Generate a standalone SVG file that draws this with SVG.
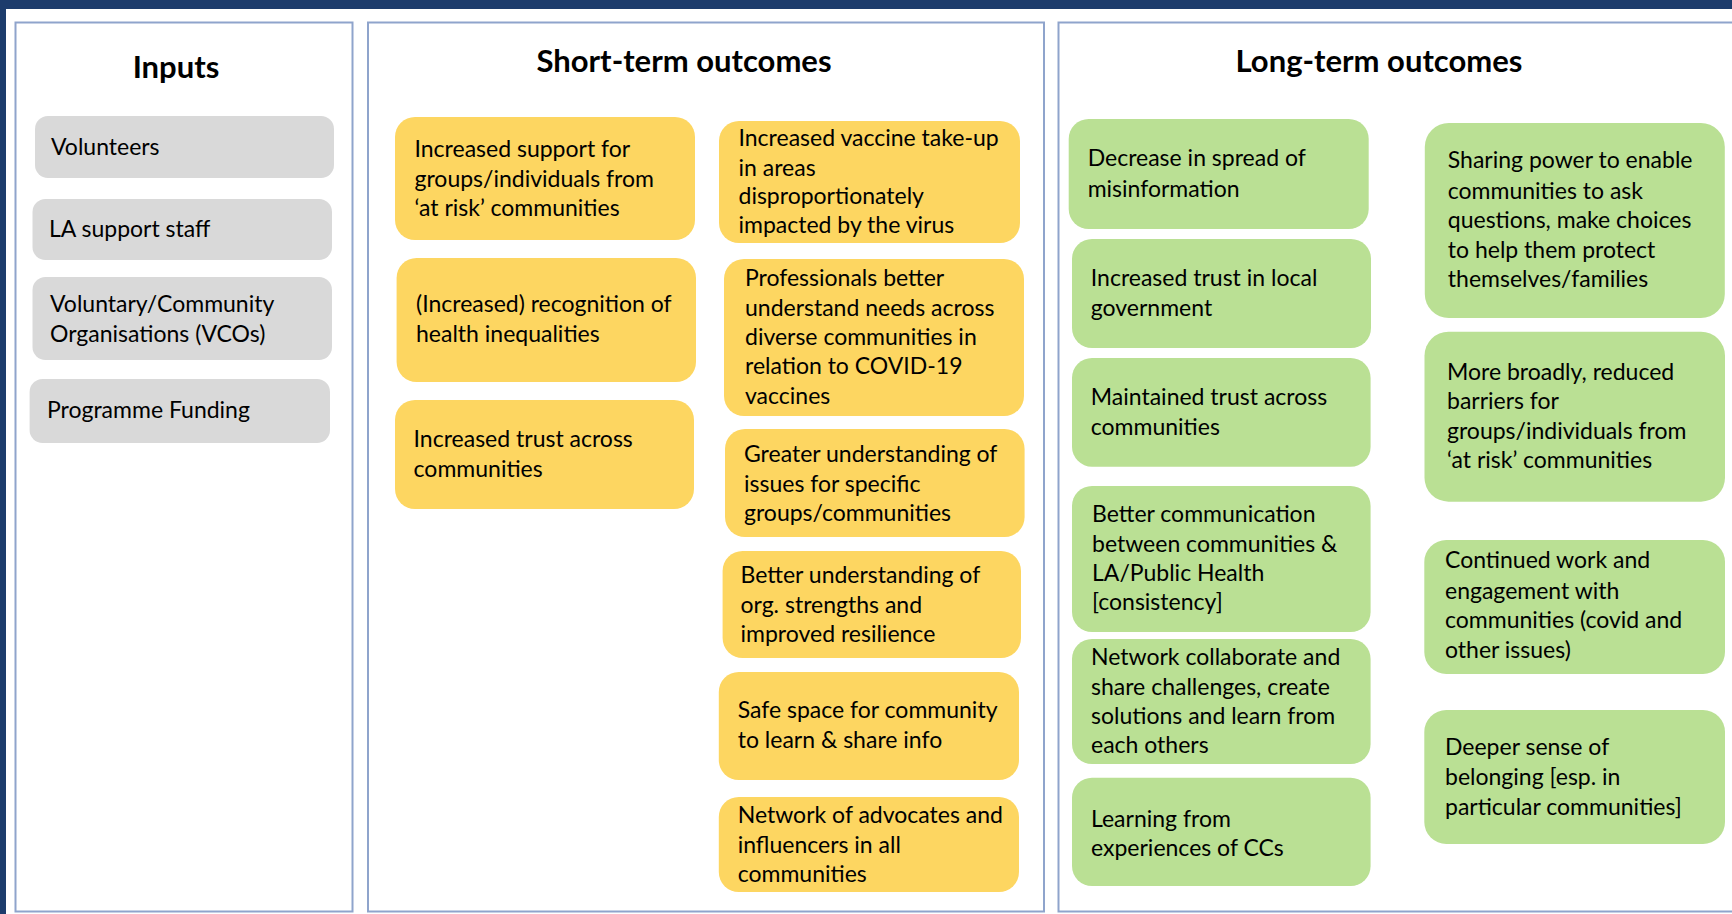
<svg xmlns="http://www.w3.org/2000/svg" width="1732" height="914" viewBox="0 0 1732 914">
  <style>
    .panel { fill: #ffffff; stroke: #8fa4cc; stroke-width: 2; }
    .title { font-family: Lato, "Open Sans", "Liberation Sans", sans-serif; font-weight: 700; font-size: 31px; fill: #000; text-anchor: middle; }
    .t { font-family: Lato, "Open Sans", "Liberation Sans", sans-serif; font-size: 23px; fill: #000; }
    .in { fill: #d9d9d9; }
    .st { fill: #fdd661; }
    .lt { fill: #bae094; }
  </style>

  <!-- frame -->
  <rect x="0" y="0" width="1732" height="914" fill="#ffffff"/>
  <rect x="0" y="0" width="1732" height="9" fill="#1d3c6c"/>
  <rect x="0" y="0" width="6" height="914" fill="#1d3c6c"/>

  <!-- column panels -->
  <g id="panels">
    <rect class="panel" x="15.5" y="22.5" width="337" height="889"/>
    <rect class="panel" x="368" y="22.5" width="676" height="889"/>
    <rect class="panel" x="1058.5" y="22.5" width="690" height="889"/>
    <text class="title" x="176" y="78">Inputs</text>
    <text class="title" x="684" y="72">Short-term outcomes</text>
    <text class="title" x="1379" y="72">Long-term outcomes</text>
  </g>

  <!-- inputs -->
  <g id="in-volunteers">
    <rect class="in" x="35" y="116" width="299" height="62" rx="13"/>
    <text class="t" x="51" y="155">Volunteers</text>
  </g>
  <g id="in-la-staff">
    <rect class="in" x="32.5" y="199" width="299.5" height="61" rx="13"/>
    <text class="t" x="49" y="237">LA support staff</text>
  </g>
  <g id="in-vcos">
    <rect class="in" x="32.5" y="277" width="299.5" height="83" rx="13"/>
    <text class="t"><tspan x="50" y="312">Voluntary/Community</tspan><tspan x="50" y="342">Organisations (VCOs)</tspan></text>
  </g>
  <g id="in-funding">
    <rect class="in" x="29.6" y="379" width="300.4" height="64" rx="13"/>
    <text class="t" x="47" y="418">Programme Funding</text>
  </g>

  <!-- short-term outcomes, left column -->
  <g id="st-support">
    <rect class="st" x="395" y="117" width="300" height="123" rx="20"/>
    <text class="t"><tspan x="414.5" y="157">Increased support for</tspan><tspan x="414.5" y="187">groups/individuals from</tspan><tspan x="414.5" y="216">‘at risk’ communities</tspan></text>
  </g>
  <g id="st-recognition">
    <rect class="st" x="396.6" y="258" width="299.4" height="124" rx="20"/>
    <text class="t"><tspan x="416" y="312">(Increased) recognition of</tspan><tspan x="416" y="342">health inequalities</tspan></text>
  </g>
  <g id="st-trust">
    <rect class="st" x="395" y="400" width="299" height="109" rx="20"/>
    <text class="t"><tspan x="413.6" y="447">Increased trust across</tspan><tspan x="413.6" y="477">communities</tspan></text>
  </g>

  <!-- short-term outcomes, right column -->
  <g id="st-vaccine">
    <rect class="st" x="719" y="121" width="301" height="122" rx="20"/>
    <text class="t"><tspan x="738.5" y="146">Increased vaccine take-up</tspan><tspan x="738.5" y="176">in areas</tspan><tspan x="738.5" y="204">disproportionately</tspan><tspan x="738.5" y="233">impacted by the virus</tspan></text>
  </g>
  <g id="st-professionals">
    <rect class="st" x="724" y="259" width="300" height="157" rx="20"/>
    <text class="t"><tspan x="745" y="286">Professionals better</tspan><tspan x="745" y="316">understand needs across</tspan><tspan x="745" y="345">diverse communities in</tspan><tspan x="745" y="374">relation to COVID-19</tspan><tspan x="745" y="404">vaccines</tspan></text>
  </g>
  <g id="st-issues">
    <rect class="st" x="725" y="429" width="299.6" height="108" rx="20"/>
    <text class="t"><tspan x="744" y="462">Greater understanding of</tspan><tspan x="744" y="492">issues for specific</tspan><tspan x="744" y="521">groups/communities</tspan></text>
  </g>
  <g id="st-strengths">
    <rect class="st" x="722.6" y="551" width="298.4" height="107" rx="20"/>
    <text class="t"><tspan x="740.5" y="583">Better understanding of</tspan><tspan x="740.5" y="613">org. strengths and</tspan><tspan x="740.5" y="642">improved resilience</tspan></text>
  </g>
  <g id="st-safe-space">
    <rect class="st" x="718.8" y="672" width="300.2" height="108" rx="20"/>
    <text class="t"><tspan x="737.7" y="718">Safe space for community</tspan><tspan x="737.7" y="748">to learn &amp; share info</tspan></text>
  </g>
  <g id="st-network">
    <rect class="st" x="718.8" y="797" width="300.2" height="95" rx="20"/>
    <text class="t"><tspan x="737.7" y="823">Network of advocates and</tspan><tspan x="737.7" y="853">influencers in all</tspan><tspan x="737.7" y="882">communities</tspan></text>
  </g>

  <!-- long-term outcomes, left column -->
  <g id="lt-misinformation">
    <rect class="lt" x="1068.7" y="119" width="300" height="110" rx="20"/>
    <text class="t"><tspan x="1087.7" y="166">Decrease in spread of</tspan><tspan x="1087.7" y="197">misinformation</tspan></text>
  </g>
  <g id="lt-local-gov">
    <rect class="lt" x="1072" y="239" width="299" height="109" rx="20"/>
    <text class="t"><tspan x="1090.8" y="286">Increased trust in local</tspan><tspan x="1090.8" y="316">government</tspan></text>
  </g>
  <g id="lt-maintained-trust">
    <rect class="lt" x="1072" y="358" width="298.6" height="108.7" rx="20"/>
    <text class="t"><tspan x="1090.8" y="405">Maintained trust across</tspan><tspan x="1090.8" y="435">communities</tspan></text>
  </g>
  <g id="lt-communication">
    <rect class="lt" x="1072" y="486" width="298.6" height="146" rx="20"/>
    <text class="t"><tspan x="1092" y="522">Better communication</tspan><tspan x="1092" y="552">between communities &amp;</tspan><tspan x="1092" y="581">LA/Public Health</tspan><tspan x="1092" y="610">[consistency]</tspan></text>
  </g>
  <g id="lt-collaborate">
    <rect class="lt" x="1072" y="639" width="298.6" height="125" rx="20"/>
    <text class="t"><tspan x="1091" y="665">Network collaborate and</tspan><tspan x="1091" y="695">share challenges, create</tspan><tspan x="1091" y="724">solutions and learn from</tspan><tspan x="1091" y="753">each others</tspan></text>
  </g>
  <g id="lt-learning">
    <rect class="lt" x="1072" y="777.7" width="298.6" height="108.3" rx="20"/>
    <text class="t"><tspan x="1091" y="827">Learning from</tspan><tspan x="1091" y="856">experiences of CCs</tspan></text>
  </g>

  <!-- long-term outcomes, right column -->
  <g id="lt-sharing-power">
    <rect class="lt" x="1424.8" y="123" width="300" height="195" rx="24"/>
    <text class="t"><tspan x="1447.8" y="168">Sharing power to enable</tspan><tspan x="1447.8" y="199">communities to ask</tspan><tspan x="1447.8" y="228">questions, make choices</tspan><tspan x="1447.8" y="258">to help them protect</tspan><tspan x="1447.8" y="287">themselves/families</tspan></text>
  </g>
  <g id="lt-barriers">
    <rect class="lt" x="1424.5" y="331.7" width="300.5" height="170" rx="24"/>
    <text class="t"><tspan x="1447" y="380">More broadly, reduced</tspan><tspan x="1447" y="409">barriers for</tspan><tspan x="1447" y="439">groups/individuals from</tspan><tspan x="1447" y="468">‘at risk’ communities</tspan></text>
  </g>
  <g id="lt-continued-work">
    <rect class="lt" x="1424.3" y="540" width="300.7" height="134" rx="22"/>
    <text class="t"><tspan x="1445" y="568">Continued work and</tspan><tspan x="1445" y="599">engagement with</tspan><tspan x="1445" y="628">communities (covid and</tspan><tspan x="1445" y="658">other issues)</tspan></text>
  </g>
  <g id="lt-belonging">
    <rect class="lt" x="1424.3" y="710" width="300.7" height="134" rx="22"/>
    <text class="t"><tspan x="1445" y="755">Deeper sense of</tspan><tspan x="1445" y="785">belonging [esp. in</tspan><tspan x="1445" y="815">particular communities]</tspan></text>
  </g>

  <!-- this chart has no connectors -->
  <g id="connectors"/>
</svg>
